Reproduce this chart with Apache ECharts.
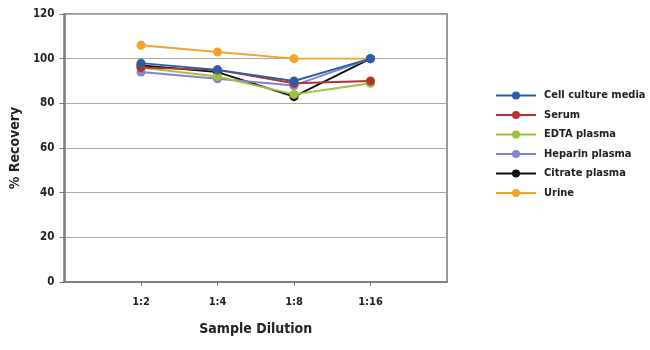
<!DOCTYPE html>
<html><head><meta charset="utf-8">
<script src="https://cdn.jsdelivr.net/npm/echarts@6/dist/echarts.min.js"></script>
<style>html,body{margin:0;padding:0;background:#fff}#c{width:650px;height:350px}</style>
</head><body><div id="c"></div>
<script>
const categories = ['1:2', '1:4', '1:8', '1:16'];
const seriesNames = ['Cell culture media', 'Serum', 'EDTA plasma', 'Heparin plasma', 'Citrate plasma', 'Urine'];
const cellCulture = [98, 95, 90, 100];
const serum = [96, 95, 89, 90];
const edta = [96, 92, 84, 89];
const heparin = [94, 91, 88, 100];
const citrate = [97, 94, 83, 100];
const urine = [106, 103, 100, 100];
const yTicks = [0, 20, 40, 60, 80, 100, 120];
const colors = ['#2b5ea7', '#b5332e', '#9cc23b', '#8282d2', '#111111', '#f6a12b'];

const FONT = '"DejaVu Sans Condensed", "Liberation Sans Narrow", sans-serif';
const allData = [cellCulture, serum, edta, heparin, citrate, urine];
const xCats = [''].concat(categories, ['']);

const series = seriesNames.map((n, i) => ({
  name: n,
  type: 'line',
  data: [null].concat(allData[i], [null]),
  symbol: 'circle',
  symbolSize: 9,
  lineStyle: { width: 1.9, color: colors[i] },
  itemStyle: { color: colors[i] },
  z: 10 - i
}));

const chart = echarts.init(document.getElementById('c'), null, { renderer: 'canvas' });
chart.setOption({
  animation: false,
  color: colors,
  textStyle: { fontFamily: FONT, fontWeight: 'bold', color: '#222' },
  grid: { left: 64, right: 203, top: 14, bottom: 68 },
  legend: {
    orient: 'vertical', left: 490, top: 85,
    itemWidth: 40, itemHeight: 10, itemGap: 8.5,
    data: seriesNames,
    textStyle: { fontFamily: FONT, fontWeight: 'bold', fontSize: 11, color: '#222', padding: [0, 0, 0, 3] }
  },
  xAxis: {
    type: 'category', data: xCats, boundaryGap: false,
    name: 'Sample Dilution', nameLocation: 'middle', nameGap: 40,
    nameTextStyle: { fontFamily: FONT, fontWeight: 'bold', fontSize: 14, color: '#222' },
    axisLine: { show: true, lineStyle: { color: '#777', width: 1.5 } },
    axisTick: { show: true, length: 4, lineStyle: { color: '#777' }, interval: (idx) => idx > 0 && idx < xCats.length - 1 },
    axisLabel: { fontFamily: FONT, fontWeight: 'bold', fontSize: 11, color: '#222', margin: 15, interval: 0 },
    splitLine: { show: false }
  },
  yAxis: {
    type: 'value', min: yTicks[0], max: yTicks[yTicks.length - 1], interval: yTicks[1] - yTicks[0],
    name: '% Recovery', nameLocation: 'middle', nameGap: 40,
    nameTextStyle: { fontFamily: FONT, fontWeight: 'bold', fontSize: 14, color: '#222' },
    axisLine: { show: true, lineStyle: { color: '#777', width: 1.5 } },
    axisTick: { show: true, length: 5, lineStyle: { color: '#777' } },
    axisLabel: { fontFamily: FONT, fontWeight: 'bold', fontSize: 11.5, color: '#222', margin: 10 },
    splitLine: { show: true, lineStyle: { color: '#aaa', width: 1.2 } }
  },
  series: series,
  graphic: [{
    type: 'rect', shape: { x: 64, y: 14, width: 383, height: 268 },
    style: { fill: 'none', stroke: '#777', lineWidth: 1.5 }, silent: true, z: 0
  }]
});
</script></body></html>
